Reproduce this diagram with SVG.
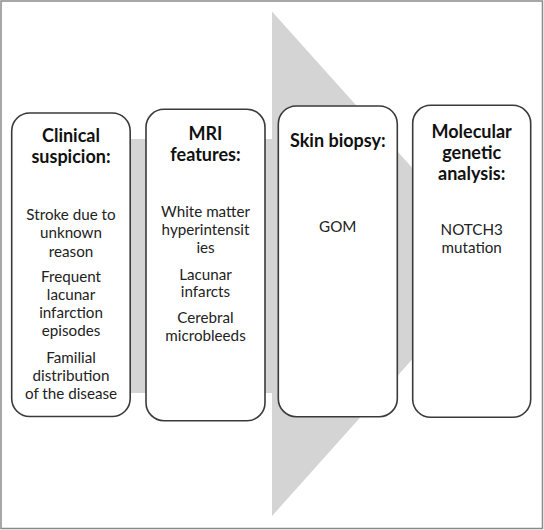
<svg xmlns="http://www.w3.org/2000/svg" width="544" height="530" viewBox="0 0 544 530">
<style>
.box{fill:#fff;stroke:#3a3a3a;stroke-width:1.6}
.t{font-family:Lato,"Liberation Sans",sans-serif;font-weight:bold;font-size:18px;fill:#111;text-anchor:middle}
.b{font-family:Lato,"Liberation Sans",sans-serif;font-size:15.2px;fill:#222;text-anchor:middle}
</style>
<rect x="0" y="0" width="544" height="530" fill="#fff"/>
<rect x="1" y="1" width="541.5" height="527.5" fill="none" stroke="#8a8a8a" stroke-width="1.5"/>
<g id="connectors">
<rect x="100" y="139" width="173" height="254" fill="#d4d4d4"/>
<polygon points="272,11.5 498,263.5 272,516" fill="#d4d4d4"/>
</g>
<g id="node1">
<rect class="box" x="11.7" y="113" width="118.5" height="303.5" rx="18"/>
<text class="t" x="71" y="142.3">Clinical</text>
<text class="t" x="71" y="162.7">suspicion:</text>
<text class="b" x="71" y="220">Stroke due to</text>
<text class="b" x="71" y="238.3">unknown</text>
<text class="b" x="71" y="256.7">reason</text>
<text class="b" x="71" y="281.7">Frequent</text>
<text class="b" x="71" y="300">lacunar</text>
<text class="b" x="71" y="318.3">infarction</text>
<text class="b" x="71" y="336">episodes</text>
<text class="b" x="71" y="362.7">Familial</text>
<text class="b" x="71" y="381">distribution</text>
<text class="b" x="71" y="399">of the disease</text>
</g>
<g id="node2">
<rect class="box" x="146" y="109.3" width="119" height="311.4" rx="18"/>
<text class="t" x="205.5" y="140">MRI</text>
<text class="t" x="205.5" y="160.7">features:</text>
<text class="b" x="205.5" y="217.3">White matter</text>
<text class="b" x="205.5" y="235">hyperintensit</text>
<text class="b" x="205.5" y="253.3">ies</text>
<text class="b" x="205.5" y="280">Lacunar</text>
<text class="b" x="205.5" y="296.7">infarcts</text>
<text class="b" x="205.5" y="323.3">Cerebral</text>
<text class="b" x="205.5" y="340.7">microbleeds</text>
</g>
<g id="node3">
<rect class="box" x="278.3" y="106" width="119" height="310.7" rx="18"/>
<text class="t" x="337.8" y="146.7">Skin biopsy:</text>
<text class="b" x="337.8" y="231.7">GOM</text>
</g>
<g id="node4">
<rect class="box" x="412.7" y="105.3" width="118" height="312" rx="18"/>
<text class="t" x="471.7" y="138.3">Molecular</text>
<text class="t" x="471.7" y="159.3">genetic</text>
<text class="t" x="471.7" y="180">analysis:</text>
<text class="b" x="471.7" y="235">NOTCH3</text>
<text class="b" x="471.7" y="253.3">mutation</text>
</g>
</svg>
